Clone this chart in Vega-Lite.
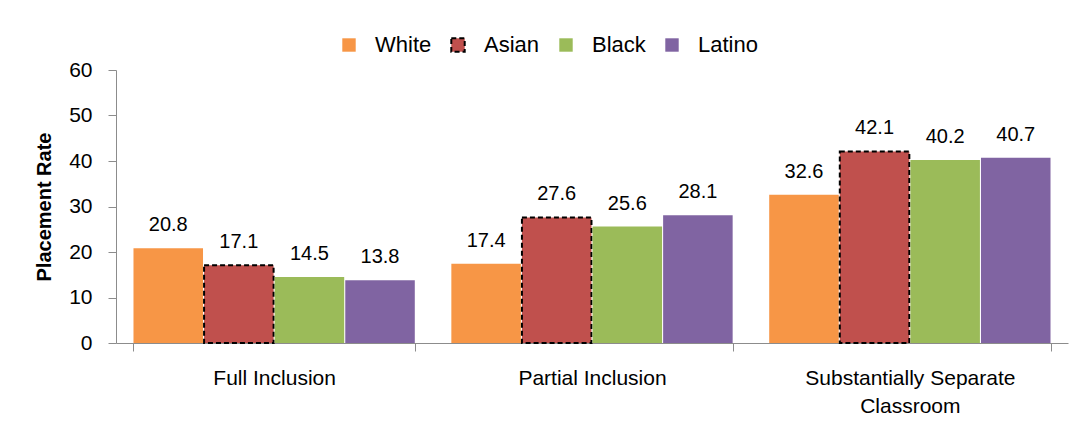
{
  "$schema": "https://vega.github.io/schema/vega-lite/v6.json",
  "autosize": {"type": "none"},
  "width": 952,
  "height": 273,
  "padding": {"left": 116, "top": 70, "right": 10, "bottom": 81},
  "background": "white",
  "config": {
    "view": {"stroke": null},
    "font": "Liberation Sans",
    "axis": {"grid": false, "domainColor": "#8c8c8c", "tickColor": "#8c8c8c", "labelColor": "#000000", "titleColor": "#000000", "labelFont": "Liberation Sans", "titleFont": "Liberation Sans"},
    "legend": {"labelFont": "Liberation Sans"}
  },
  "data": {
    "values": [
      {"placement": "Full Inclusion", "race": "White", "rate": 20.8},
      {"placement": "Full Inclusion", "race": "Asian", "rate": 17.1},
      {"placement": "Full Inclusion", "race": "Black", "rate": 14.5},
      {"placement": "Full Inclusion", "race": "Latino", "rate": 13.8},
      {"placement": "Partial Inclusion", "race": "White", "rate": 17.4},
      {"placement": "Partial Inclusion", "race": "Asian", "rate": 27.6},
      {"placement": "Partial Inclusion", "race": "Black", "rate": 25.6},
      {"placement": "Partial Inclusion", "race": "Latino", "rate": 28.1},
      {"placement": "Substantially Separate Classroom", "race": "White", "rate": 32.6},
      {"placement": "Substantially Separate Classroom", "race": "Asian", "rate": 42.1},
      {"placement": "Substantially Separate Classroom", "race": "Black", "rate": 40.2},
      {"placement": "Substantially Separate Classroom", "race": "Latino", "rate": 40.7}
    ]
  },
  "encoding": {
    "x": {
      "field": "placement", "type": "nominal", "sort": null,
      "scale": {"paddingInner": 0.115, "paddingOuter": 0.055},
      "axis": {
        "title": null, "labelAngle": 0, "labelFontSize": 21, "labelPadding": 16, "labelLimit": 0,
        "tickBand": "extent", "tickSize": 8, "labelLineHeight": 28,
        "labelExpr": "datum.label == 'Substantially Separate Classroom' ? ['Substantially Separate', 'Classroom'] : datum.label"
      }
    },
    "xOffset": {"field": "race", "type": "nominal", "sort": ["White", "Asian", "Black", "Latino"], "scale": {"paddingInner": 0.015}},
    "y": {
      "field": "rate", "type": "quantitative",
      "scale": {"domain": [0, 60]},
      "axis": {"title": "Placement Rate", "titleFontSize": 20, "titleFontWeight": "bold", "titlePadding": 14, "labelFontSize": 21, "values": [0, 10, 20, 30, 40, 50, 60], "labelOverlap": false, "labelFlush": false, "tickSize": 8, "labelPadding": 16}
    }
  },
  "layer": [
    {
      "mark": {"type": "bar", "strokeWidth": 2},
      "encoding": {
        "fill": {
          "field": "race", "type": "nominal",
          "scale": {"domain": ["White", "Asian", "Black", "Latino"], "range": ["#F79646", "#C0504D", "#9BBB59", "#8064A2"]},
          "legend": {"title": null, "orient": "none", "legendX": 222, "legendY": -36, "direction": "horizontal", "labelFontSize": 22, "symbolType": "square", "symbolSize": 180, "symbolStrokeWidth": 2, "labelOffset": 15, "columnPadding": 15, "labelColor": "#000000"}
        },
        "stroke": {
          "field": "race", "type": "nominal",
          "scale": {"domain": ["White", "Asian", "Black", "Latino"], "range": ["transparent", "#000000", "transparent", "transparent"]},
          "legend": {"title": null, "orient": "none", "legendX": 222, "legendY": -36, "direction": "horizontal", "labelFontSize": 22, "symbolType": "square", "symbolSize": 180, "symbolStrokeWidth": 2, "labelOffset": 15, "columnPadding": 15, "labelColor": "#000000"}
        },
        "strokeDash": {
          "field": "race", "type": "nominal",
          "scale": {"domain": ["White", "Asian", "Black", "Latino"], "range": [[1, 0], [5, 3], [1, 0], [1, 0]]},
          "legend": {"title": null, "orient": "none", "legendX": 222, "legendY": -36, "direction": "horizontal", "labelFontSize": 22, "symbolType": "square", "symbolSize": 180, "symbolStrokeWidth": 2, "labelOffset": 15, "columnPadding": 15, "labelColor": "#000000"}
        }
      }
    },
    {
      "mark": {"type": "text", "baseline": "alphabetic", "dy": -17, "fontSize": 20, "color": "#000000", "font": "Liberation Sans"},
      "encoding": {"text": {"field": "rate", "type": "quantitative", "format": ".1f"}}
    }
  ]
}
